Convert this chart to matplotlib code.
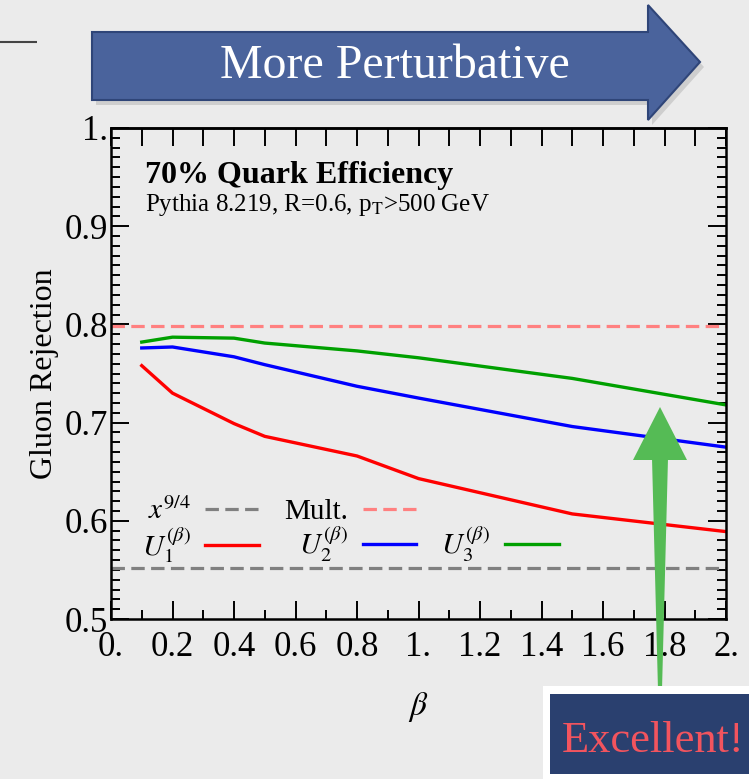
import matplotlib
matplotlib.use("Agg")
import matplotlib.pyplot as plt
from matplotlib.lines import Line2D
from matplotlib.patches import Polygon, Rectangle
from matplotlib.ticker import FixedLocator, FuncFormatter, MultipleLocator

# gluon rejection at 70% quark efficiency vs beta
beta = [0.1, 0.2, 0.4, 0.5, 0.8, 1.0, 1.5, 2.0]
u1 = [0.758, 0.730, 0.699, 0.686, 0.666, 0.643, 0.607, 0.589]
u2 = [0.776, 0.777, 0.767, 0.759, 0.737, 0.725, 0.696, 0.675]
u3 = [0.782, 0.787, 0.786, 0.781, 0.773, 0.766, 0.745, 0.718]
mult = 0.798
x94 = 0.552

xticks = [0.0, 0.2, 0.4, 0.6, 0.8, 1.0, 1.2, 1.4, 1.6, 1.8, 2.0]
yticks = [0.5, 0.6, 0.7, 0.8, 0.9, 1.0]

plt.rcParams['font.family'] = ['Liberation Serif', 'DejaVu Serif']
plt.rcParams['mathtext.fontset'] = 'stix'

bg = '#ebebeb'
W, H = 749, 779
fig = plt.figure(figsize=(W / 100, H / 100), dpi=100, facecolor=bg)

# main plot, placed in pixels
L, R, T, B = 111, 726, 128, 619
ax = fig.add_axes([L / W, 1 - B / H, (R - L) / W, (B - T) / H])
ax.set_facecolor('none')

lw = 2.4
h_x94 = ax.axhline(x94, color='#808080', lw=2.3, dashes=(4.2, 2.0))
h_mult = ax.axhline(mult, color='#ff8080', lw=2.3, dashes=(4.2, 2.0))
h1, = ax.plot(beta, u1, color='#ff0000', lw=lw)
h2, = ax.plot(beta, u2, color='#0000ff', lw=lw)
h3, = ax.plot(beta, u3, color='#00a000', lw=lw)

ax.set_xlim(0, 2)
ax.set_ylim(0.5, 1.0)


def mma(v, pos=None):
    # Mathematica-style labels: "0.", "1.", "0.2"
    if abs(v - round(v)) < 1e-9:
        return '%d.' % round(v)
    return ('%.1f' % v)


ax.xaxis.set_major_locator(FixedLocator(xticks))
ax.xaxis.set_major_formatter(FuncFormatter(mma))
ax.xaxis.set_minor_locator(MultipleLocator(0.1))
ax.yaxis.set_major_locator(FixedLocator(yticks))
ax.yaxis.set_major_formatter(FuncFormatter(mma))
ax.yaxis.set_minor_locator(MultipleLocator(0.01))

ax.tick_params(which='both', direction='in', left=True, right=True,
               bottom=True, top=False, width=1.4, labelsize=25)
ax.tick_params(which='major', length=13)
ax.tick_params(which='minor', length=6.5)
ax.tick_params(axis='y', pad=2)
ax.tick_params(axis='x', pad=9)

# top frame: one tick per 0.1, no labels
top = ax.secondary_xaxis('top')
top.xaxis.set_major_locator(MultipleLocator(0.1))
top.tick_params(direction='in', length=13, width=1.4, labeltop=False)

for s in ax.spines.values():
    s.set_linewidth(1.8)
top.spines['top'].set_linewidth(1.8)

ax.set_xlabel(r'$\beta$', fontsize=24, labelpad=18)
ax.set_ylabel('Gluon Rejection', fontsize=23, labelpad=4)

ax.text(0.055, 0.888, '70% Quark Efficiency', transform=ax.transAxes,
        fontsize=23, fontweight='bold', va='baseline')
ax.text(0.055, 0.831, r'Pythia 8.219, R=0.6, p$_{\rm T}$>500 GeV',
        transform=ax.transAxes, fontsize=18, va='baseline')

blank = Line2D([], [], color='none')
ax.legend([h_x94, h1, h_mult, h2, blank, h3],
          [r'$x^{9/4}$', r'$U_1^{(\beta)}$', 'Mult.', r'$U_2^{(\beta)}$', '', r'$U_3^{(\beta)}$'],
          ncol=3, markerfirst=False, frameon=False, loc='lower left',
          bbox_to_anchor=(0.05, 0.11), fontsize=21, handlelength=1.85,
          handletextpad=0.5, columnspacing=0.85, labelspacing=0.0,
          borderpad=0, borderaxespad=0)

# slide decorations drawn on top in pixel coordinates
ov = fig.add_axes([0, 0, 1, 1], zorder=5)
ov.set_xlim(0, W)
ov.set_ylim(H, 0)
ov.axis('off')

ov.plot([0, 37], [42, 42], color='#444444', lw=1.5, solid_capstyle='butt')

arrow = [(92, 32), (648, 32), (648, 5), (700, 62), (648, 120), (648, 100), (92, 100)]
ov.add_patch(Polygon([(x + 4, y + 5) for x, y in arrow], closed=True,
                     facecolor='black', alpha=0.12, lw=0))
ov.add_patch(Polygon(arrow, closed=True, facecolor='#4a639c',
                     edgecolor='#2f4578', lw=1.5))
ov.text(395, 66, 'More Perturbative', color='white', fontsize=34.5,
        ha='center', va='center')

# green arrow pointing up at the curves
ov.add_patch(Polygon([(652, 458), (668, 458), (662, 690), (658, 690)],
                     closed=True, facecolor='#55bb55', lw=0))
ov.add_patch(Polygon([(633, 460), (660, 407), (687, 460)],
                     closed=True, facecolor='#55bb55', lw=0))

ov.add_patch(Rectangle((543, 686), 220, 100, facecolor='white', lw=0))
ov.add_patch(Rectangle((550, 694), 210, 80, facecolor='#2a406f', lw=0))
ov.text(562, 752, 'Excellent!', color='#f2545e', fontsize=32, va='baseline')

fig.savefig('out.png', dpi=100, facecolor=bg)
